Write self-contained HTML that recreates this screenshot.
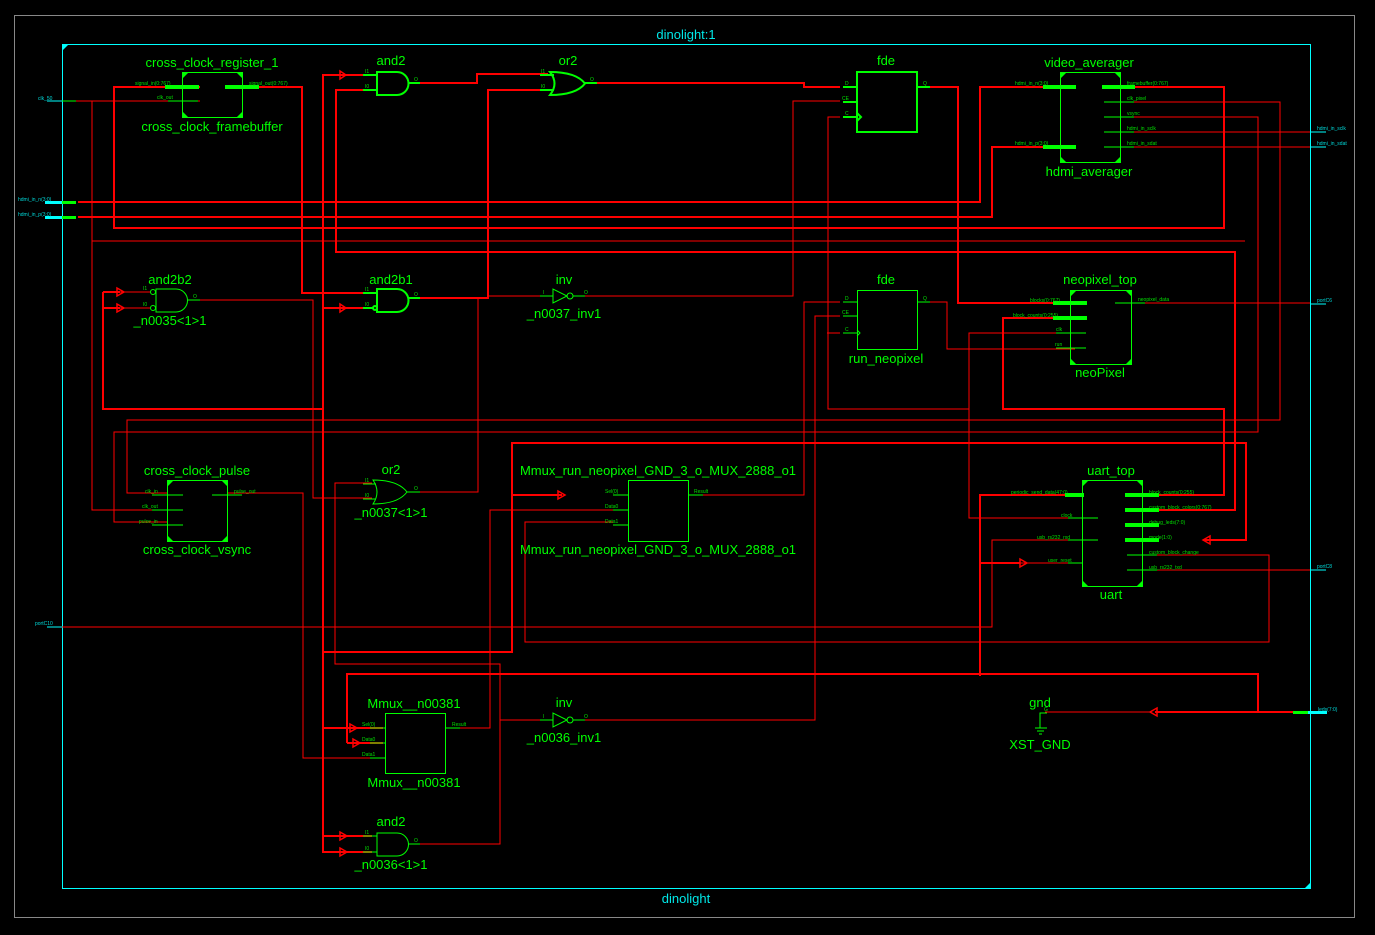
<!DOCTYPE html>
<html><head><meta charset="utf-8"><style>
html,body{margin:0;padding:0;background:#000;width:1375px;height:935px;overflow:hidden}
svg{display:block}
text{font-family:"Liberation Sans",sans-serif;fill:#00ff00}
.l{font-size:13px;text-anchor:middle}
.p{font-size:5px;fill:#00e000}
.c{font-size:5px;fill:#00d8d8}
.w{fill:none;stroke:#ff0000;stroke-width:1}
.W{fill:none;stroke:#ff0000;stroke-width:2}
.g{fill:none;stroke:#00ff00;stroke-width:1}
.G{fill:none;stroke:#00ff00;stroke-width:2}
.b{fill:#00ff00}
</style></head><body>
<svg width="1375" height="935" viewBox="0 0 1375 935" xmlns="http://www.w3.org/2000/svg">
<rect x="14.5" y="15.5" width="1340" height="902" fill="none" stroke="#888" stroke-width="1"/>
<rect x="62.5" y="44.5" width="1248" height="844" fill="none" stroke="#00ffff" stroke-width="1"/>
<polygon points="62,44 69,44 62,51" fill="#00ffff"/>
<polygon points="1311,889 1304,889 1311,882" fill="#00ffff"/>
<text class="l" x="686" y="39" style="fill:#00e8e8">dinolight:1</text>
<text class="l" x="686" y="903" style="fill:#00e8e8">dinolight</text>

<!-- ports -->
<line x1="47" y1="101" x2="62" y2="101" stroke="#00ffff"/>
<line x1="62" y1="101" x2="77" y2="101" stroke="#00ff00"/>
<text class="c" x="38" y="100">clk_50</text>
<rect x="45" y="201" width="17" height="3" fill="#00ffff"/><rect x="62" y="201" width="14" height="3" fill="#00ff00"/>
<rect x="45" y="216" width="17" height="3" fill="#00ffff"/><rect x="62" y="216" width="14" height="3" fill="#00ff00"/>
<text class="c" x="18" y="201">hdmi_in_n(3:0)</text>
<text class="c" x="18" y="216">hdmi_in_p(3:0)</text>
<line x1="47" y1="627" x2="62" y2="627" stroke="#00ffff"/>
<text class="c" x="35" y="625">portC10</text>
<line x1="1310" y1="132" x2="1326" y2="132" stroke="#00ffff"/><text class="c" x="1317" y="130">hdmi_in_sclk</text>
<line x1="1310" y1="147" x2="1326" y2="147" stroke="#00ffff"/><text class="c" x="1317" y="145">hdmi_in_sdat</text>
<line x1="1310" y1="304" x2="1326" y2="304" stroke="#00ffff"/><text class="c" x="1317" y="302">portC6</text>
<line x1="1310" y1="570" x2="1326" y2="570" stroke="#00ffff"/><text class="c" x="1317" y="568">portC8</text>
<rect x="1293" y="711" width="15" height="3" fill="#00ff00"/><rect x="1308" y="711" width="19" height="3" fill="#00ffff"/>
<text class="c" x="1318" y="711">leds(7:0)</text>

<!-- thick wires -->
<polyline class="W" points="78,202 980,202 980,87 1075,87"/>
<polyline class="W" points="78,217 992,217 992,147 1075,147"/>
<polyline class="W" points="1102,87 1224,87 1224,228 114,228 114,87 200,87"/>
<polyline class="W" points="230,87 302,87 302,293 372,293"/>
<polyline class="W" points="372,90 336,90 336,252 1235,252 1235,510 1128,510"/>
<polyline class="W" points="372,75 323,75 323,852 372,852"/>
<polyline class="W" points="323,308 372,308"/>
<polyline class="W" points="323,836 372,836"/>
<polyline class="W" points="323,728 383,728"/>
<polyline class="W" points="323,652 512,652 512,443 1246,443 1246,540 1203,540"/>
<polyline class="W" points="512,495 562,495"/>
<polyline class="W" points="347,743 347,674 1258,674 1258,712 1293,712"/>
<polyline class="W" points="347,743 383,743"/>
<polyline class="W" points="1078,495 980,495 980,676"/>
<polyline class="W" points="980,563 1020,563"/>
<polyline class="W" points="1155,712 1258,712"/>
<path class="W" d="M103,292 H120 M103,308 H120"/>
<polyline class="W" points="103,292 103,409 323,409"/>
<polyline class="W" points="420,83 477,83 477,74 548,74"/>
<polyline class="W" points="420,298 488,298 488,90 548,90"/>
<polyline class="W" points="597,83 804,83 804,87 840,87"/>
<polyline class="W" points="920,87 958,87 958,303 1075,303"/>
<polyline class="W" points="1075,318 1003,318 1003,409 1224,409 1224,495 1128,495"/>

<!-- thin wires -->
<polyline class="w" points="76,101 200,101"/>
<polyline class="w" points="92,101 92,510 168,510"/>
<polyline class="w" points="92,241 1245,241"/>
<polyline class="w" points="1105,102 1280,102 1280,420 127,420 127,493 168,493"/>
<polyline class="w" points="1105,117 1258,117 1258,432 114,432 114,522 168,522"/>
<polyline class="w" points="1105,132 1310,132"/>
<polyline class="w" points="1105,147 1310,147"/>
<polyline class="w" points="228,493 303,493 303,758 385,758"/>
<polyline class="w" points="193,300 313,300 313,498 372,498"/>
<polyline class="w" points="372,483 335,483 335,664 500,664 500,844 420,844"/>
<polyline class="w" points="500,720 553,720"/>
<polyline class="w" points="420,492 478,492 478,298"/>
<polyline class="w" points="488,296 553,296"/>
<polyline class="w" points="585,296 793,296 793,101 840,101"/>
<polyline class="w" points="840,117 828,117 828,409 969,409"/>
<polyline class="w" points="840,333 827,333"/>
<polyline class="w" points="688,495 804,495 804,302 840,302"/>
<polyline class="w" points="585,720 815,720 815,316 840,316"/>
<polyline class="w" points="917,302 947,302 947,349 1075,349"/>
<polyline class="w" points="1075,333 969,333 969,518 1098,518"/>
<polyline class="w" points="1130,303 1310,303"/>
<polyline class="w" points="445,728 490,728 490,510 613,510"/>
<polyline class="w" points="613,522 525,522 525,642 1269,642 1269,555 1128,555"/>
<polyline class="w" points="1098,540 992,540 992,627 62,627"/>
<polyline class="w" points="1020,563 1083,563"/>
<polyline class="w" points="1128,570 1310,570"/>
<polyline class="w" points="1045,712 1150,712"/>
<path class="w" d="M120,292 H150 M120,308 H150"/>

<!-- arrows -->
<g fill="none" stroke="#ff0000" stroke-width="1.5">
<path d="M340,71 L340,79 L346,75 Z"/><path d="M340,304 L340,312 L346,308 Z"/>
<path d="M117,288 L117,296 L124,292 Z"/><path d="M117,304 L117,312 L124,308 Z"/>
<path d="M558,491 L558,499 L565,495 Z"/><path d="M1020,559 L1020,567 L1027,563 Z"/>
<path d="M1210,536 L1210,544 L1203,540 Z"/><path d="M1157,708 L1157,716 L1150,712 Z"/>
<path d="M350,724 L350,732 L357,728 Z"/><path d="M353,739 L353,747 L360,743 Z"/>
<path d="M340,832 L340,840 L347,836 Z"/><path d="M340,848 L340,856 L347,852 Z"/>
</g>

<!-- cross_clock_register_1 -->
<rect x="182.5" y="72.5" width="60" height="45" class="g"/>
<polygon class="b" points="182,72 189,72 182,79"/><polygon class="b" points="243,72 236,72 243,79"/>
<polygon class="b" points="182,118 189,118 182,111"/><polygon class="b" points="243,118 236,118 243,111"/>
<rect x="165" y="85" width="34" height="4" class="b"/><rect x="225" y="85" width="34" height="4" class="b"/>
<line x1="168" y1="101" x2="198" y2="101" class="g"/>
<text class="p" x="135" y="85">signal_in(0:767)</text><text class="p" x="249" y="85">signal_out(0:767)</text>
<text class="p" x="157" y="99">clk_out</text>
<text class="l" x="212" y="67">cross_clock_register_1</text>
<text class="l" x="212" y="131">cross_clock_framebuffer</text>

<!-- and2 top -->
<path class="G" d="M377,72 H397 A11.5 11.5 0 0 1 397,95 H377 Z"/>
<line class="G" x1="363" y1="75" x2="377" y2="75"/><line class="G" x1="363" y1="90" x2="377" y2="90"/><line class="G" x1="408" y1="83" x2="420" y2="83"/>
<text class="p" x="365" y="73">I1</text><text class="p" x="365" y="88">I0</text><text class="p" x="414" y="81">O</text>
<text class="l" x="391" y="65">and2</text>

<!-- or2 top -->
<path class="G" d="M550,72 Q559,83.5 550,95 Q576,95 585,83.5 Q576,72 550,72 Z"/>
<line class="G" x1="540" y1="75" x2="554" y2="75"/><line class="G" x1="540" y1="90" x2="554" y2="90"/><line class="G" x1="585" y1="83" x2="597" y2="83"/>
<text class="p" x="541" y="73">I1</text><text class="p" x="541" y="88">I0</text><text class="p" x="590" y="81">O</text>
<text class="l" x="568" y="65">or2</text>

<!-- fde top -->
<rect x="857" y="72" width="60" height="60" class="G"/>
<line class="G" x1="843" y1="87" x2="857" y2="87"/><line class="G" x1="843" y1="102" x2="857" y2="102"/><line class="G" x1="843" y1="117" x2="857" y2="117"/><line class="G" x1="917" y1="87" x2="930" y2="87"/>
<path class="G" d="M857,113 L861,117 L857,121"/>
<text class="p" x="845" y="85">D</text><text class="p" x="842" y="100">CE</text><text class="p" x="845" y="115">C</text><text class="p" x="923" y="85">Q</text>
<text class="l" x="886" y="65">fde</text>

<!-- video_averager -->
<rect x="1060.5" y="72.5" width="60" height="90" class="g"/>
<polygon class="b" points="1060,72 1067,72 1060,79"/><polygon class="b" points="1121,72 1114,72 1121,79"/>
<polygon class="b" points="1060,163 1067,163 1060,156"/><polygon class="b" points="1121,163 1114,163 1121,156"/>
<rect x="1043" y="85" width="33" height="4" class="b"/><rect x="1043" y="145" width="33" height="4" class="b"/>
<rect x="1102" y="85" width="33" height="4" class="b"/>
<line class="g" x1="1104" y1="102" x2="1134" y2="102"/><line class="g" x1="1104" y1="117" x2="1134" y2="117"/><line class="g" x1="1104" y1="132" x2="1134" y2="132"/><line class="g" x1="1104" y1="147" x2="1134" y2="147"/>
<text class="p" x="1015" y="85">hdmi_in_n(3:0)</text><text class="p" x="1015" y="145">hdmi_in_p(3:0)</text>
<text class="p" x="1127" y="85">framebuffer(0:767)</text><text class="p" x="1127" y="100">clk_pixel</text><text class="p" x="1127" y="115">vsync</text><text class="p" x="1127" y="130">hdmi_in_sclk</text><text class="p" x="1127" y="145">hdmi_in_sdat</text>
<text class="l" x="1089" y="67">video_averager</text>
<text class="l" x="1089" y="176">hdmi_averager</text>

<!-- and2b2 -->
<path class="g" d="M156,289 H176 A11.5 11.5 0 0 1 176,312 H156 Z"/>
<circle class="g" cx="153" cy="292" r="2.5"/><circle class="g" cx="153" cy="308" r="2.5"/>
<line class="g" x1="187" y1="300" x2="200" y2="300"/>
<text class="p" x="143" y="290">I1</text><text class="p" x="143" y="306">I0</text><text class="p" x="193" y="298">O</text>
<text class="l" x="170" y="284">and2b2</text><text class="l" x="170" y="325">_n0035&lt;1&gt;1</text>

<!-- and2b1 -->
<path class="G" d="M377,289 H397 A11.5 11.5 0 0 1 397,312 H377 Z"/>
<line class="G" x1="363" y1="293" x2="377" y2="293"/><line class="G" x1="363" y1="308" x2="373" y2="308"/><circle class="G" cx="375" cy="308" r="2"/><line class="G" x1="408" y1="298" x2="420" y2="298"/>
<text class="p" x="365" y="291">I1</text><text class="p" x="365" y="306">I0</text><text class="p" x="414" y="296">O</text>
<text class="l" x="391" y="284">and2b1</text>

<!-- inv top -->
<path class="g" d="M553,289 L553,303 L567,296 Z"/><circle class="g" cx="570" cy="296" r="3"/>
<line class="g" x1="540" y1="296" x2="553" y2="296"/><line class="g" x1="573" y1="296" x2="585" y2="296"/>
<text class="p" x="543" y="294">I</text><text class="p" x="584" y="294">O</text>
<text class="l" x="564" y="284">inv</text><text class="l" x="564" y="318">_n0037_inv1</text>

<!-- fde run_neopixel -->
<rect x="857.5" y="290.5" width="60" height="59" class="g"/>
<line class="g" x1="843" y1="302" x2="857" y2="302"/><line class="g" x1="843" y1="316" x2="857" y2="316"/><line class="g" x1="843" y1="333" x2="857" y2="333"/><line class="g" x1="917" y1="302" x2="930" y2="302"/>
<path class="g" d="M857,330 L860,333 L857,336"/>
<text class="p" x="845" y="300">D</text><text class="p" x="842" y="314">CE</text><text class="p" x="845" y="331">C</text><text class="p" x="923" y="300">Q</text>
<text class="l" x="886" y="284">fde</text><text class="l" x="886" y="363">run_neopixel</text>

<!-- neopixel_top -->
<rect x="1070.5" y="290.5" width="61" height="74" class="g"/>
<polygon class="b" points="1070,290 1077,290 1070,297"/><polygon class="b" points="1132,290 1125,290 1132,297"/>
<polygon class="b" points="1070,365 1077,365 1070,358"/><polygon class="b" points="1132,365 1125,365 1132,358"/>
<rect x="1053" y="301" width="34" height="4" class="b"/><rect x="1053" y="316" width="34" height="4" class="b"/>
<line class="g" x1="1056" y1="333" x2="1086" y2="333"/><line class="g" x1="1056" y1="348" x2="1086" y2="348"/><line class="g" x1="1115" y1="303" x2="1145" y2="303"/>
<text class="p" x="1030" y="302">blocks(0:767)</text><text class="p" x="1013" y="317">block_counts(0:255)</text><text class="p" x="1056" y="331">clk</text><text class="p" x="1055" y="346">run</text>
<text class="p" x="1138" y="301">neopixel_data</text>
<text class="l" x="1100" y="284">neopixel_top</text><text class="l" x="1100" y="377">neoPixel</text>

<!-- cross_clock_pulse -->
<rect x="167.5" y="480.5" width="60" height="61" class="g"/>
<polygon class="b" points="167,480 174,480 167,487"/><polygon class="b" points="228,480 221,480 228,487"/>
<polygon class="b" points="167,542 174,542 167,535"/><polygon class="b" points="228,542 221,542 228,535"/>
<line class="g" x1="152" y1="495" x2="183" y2="495"/><line class="g" x1="152" y1="510" x2="183" y2="510"/><line class="g" x1="152" y1="525" x2="183" y2="525"/><line class="g" x1="212" y1="495" x2="242" y2="495"/>
<text class="p" x="145" y="493">clk_in</text><text class="p" x="142" y="508">clk_out</text><text class="p" x="139" y="523">pulse_in</text><text class="p" x="234" y="493">pulse_out</text>
<text class="l" x="197" y="475">cross_clock_pulse</text><text class="l" x="197" y="554">cross_clock_vsync</text>

<!-- or2 lower -->
<path class="g" d="M373,480 Q381,492 373,504 Q398,504 407,492 Q398,480 373,480 Z"/>
<line class="g" x1="363" y1="484" x2="376" y2="484"/><line class="g" x1="363" y1="499" x2="376" y2="499"/><line class="g" x1="407" y1="492" x2="420" y2="492"/>
<text class="p" x="365" y="482">I1</text><text class="p" x="365" y="497">I0</text><text class="p" x="414" y="490">O</text>
<text class="l" x="391" y="474">or2</text><text class="l" x="391" y="517">_n0037&lt;1&gt;1</text>

<!-- Mmux_run -->
<rect x="628.5" y="480.5" width="60" height="61" class="g"/>
<line class="g" x1="613" y1="495" x2="628" y2="495"/><line class="g" x1="613" y1="510" x2="628" y2="510"/><line class="g" x1="613" y1="525" x2="628" y2="525"/><line class="g" x1="688" y1="495" x2="703" y2="495"/>
<text class="p" x="605" y="493">Sel(0)</text><text class="p" x="605" y="508">Data0</text><text class="p" x="605" y="523">Data1</text><text class="p" x="694" y="493">Result</text>
<text class="l" x="658" y="475">Mmux_run_neopixel_GND_3_o_MUX_2888_o1</text>
<text class="l" x="658" y="554">Mmux_run_neopixel_GND_3_o_MUX_2888_o1</text>

<!-- uart -->
<rect x="1082.5" y="480.5" width="60" height="106" class="g"/>
<polygon class="b" points="1082,480 1089,480 1082,487"/><polygon class="b" points="1143,480 1136,480 1143,487"/>
<polygon class="b" points="1082,587 1089,587 1082,580"/><polygon class="b" points="1143,587 1136,587 1143,580"/>
<rect x="1065" y="493" width="19" height="4" class="b"/>
<rect x="1125" y="493" width="34" height="4" class="b"/><rect x="1125" y="508" width="34" height="4" class="b"/><rect x="1125" y="523" width="34" height="4" class="b"/><rect x="1125" y="538" width="34" height="4" class="b"/>
<line class="g" x1="1068" y1="518" x2="1098" y2="518"/><line class="g" x1="1068" y1="540" x2="1098" y2="540"/><line class="g" x1="1068" y1="563" x2="1083" y2="563"/>
<line class="g" x1="1127" y1="555" x2="1157" y2="555"/><line class="g" x1="1127" y1="570" x2="1157" y2="570"/>
<text class="p" x="1011" y="494">periodic_send_data(47:0)</text><text class="p" x="1061" y="517">clock</text><text class="p" x="1037" y="539">usb_rs232_rxd</text><text class="p" x="1048" y="562">user_reset</text>
<text class="p" x="1149" y="494">block_counts(0:255)</text><text class="p" x="1149" y="509">custom_block_colors(0:767)</text><text class="p" x="1149" y="524">debug_leds(7:0)</text><text class="p" x="1149" y="539">mode(1:0)</text><text class="p" x="1149" y="554">custom_block_change</text><text class="p" x="1149" y="569">usb_rs232_txd</text>
<text class="l" x="1111" y="475">uart_top</text><text class="l" x="1111" y="599">uart</text>

<!-- Mmux__n00381 -->
<rect x="385.5" y="713.5" width="60" height="60" class="g"/>
<line class="g" x1="370" y1="728" x2="385" y2="728"/><line class="g" x1="370" y1="743" x2="385" y2="743"/><line class="g" x1="370" y1="758" x2="385" y2="758"/><line class="g" x1="445" y1="728" x2="460" y2="728"/>
<text class="p" x="362" y="726">Sel(0)</text><text class="p" x="362" y="741">Data0</text><text class="p" x="362" y="756">Data1</text><text class="p" x="452" y="726">Result</text>
<text class="l" x="414" y="708">Mmux__n00381</text><text class="l" x="414" y="787">Mmux__n00381</text>

<!-- inv lower -->
<path class="g" d="M553,713 L553,727 L567,720 Z"/><circle class="g" cx="570" cy="720" r="3"/>
<line class="g" x1="540" y1="720" x2="553" y2="720"/><line class="g" x1="573" y1="720" x2="585" y2="720"/>
<text class="p" x="543" y="718">I</text><text class="p" x="584" y="718">O</text>
<text class="l" x="564" y="707">inv</text><text class="l" x="564" y="742">_n0036_inv1</text>

<!-- and2 bottom -->
<path class="g" d="M377,833 H397 A11.5 11.5 0 0 1 397,856 H377 Z"/>
<line class="g" x1="363" y1="836" x2="377" y2="836"/><line class="g" x1="363" y1="852" x2="377" y2="852"/><line class="g" x1="408" y1="844" x2="420" y2="844"/>
<text class="p" x="365" y="834">I1</text><text class="p" x="365" y="850">I0</text><text class="p" x="414" y="842">O</text>
<text class="l" x="391" y="826">and2</text><text class="l" x="391" y="869">_n0036&lt;1&gt;1</text>

<!-- gnd -->
<polyline class="g" points="1047,713 1040,713 1040,728"/>
<line class="g" x1="1035" y1="728" x2="1047" y2="728"/><line class="g" x1="1037" y1="731" x2="1044" y2="731"/><line class="g" x1="1039" y1="734" x2="1042" y2="734"/>
<text class="p" x="1044" y="711">G</text>
<text class="l" x="1040" y="707">gnd</text><text class="l" x="1040" y="749">XST_GND</text>
</svg>
</body></html>
